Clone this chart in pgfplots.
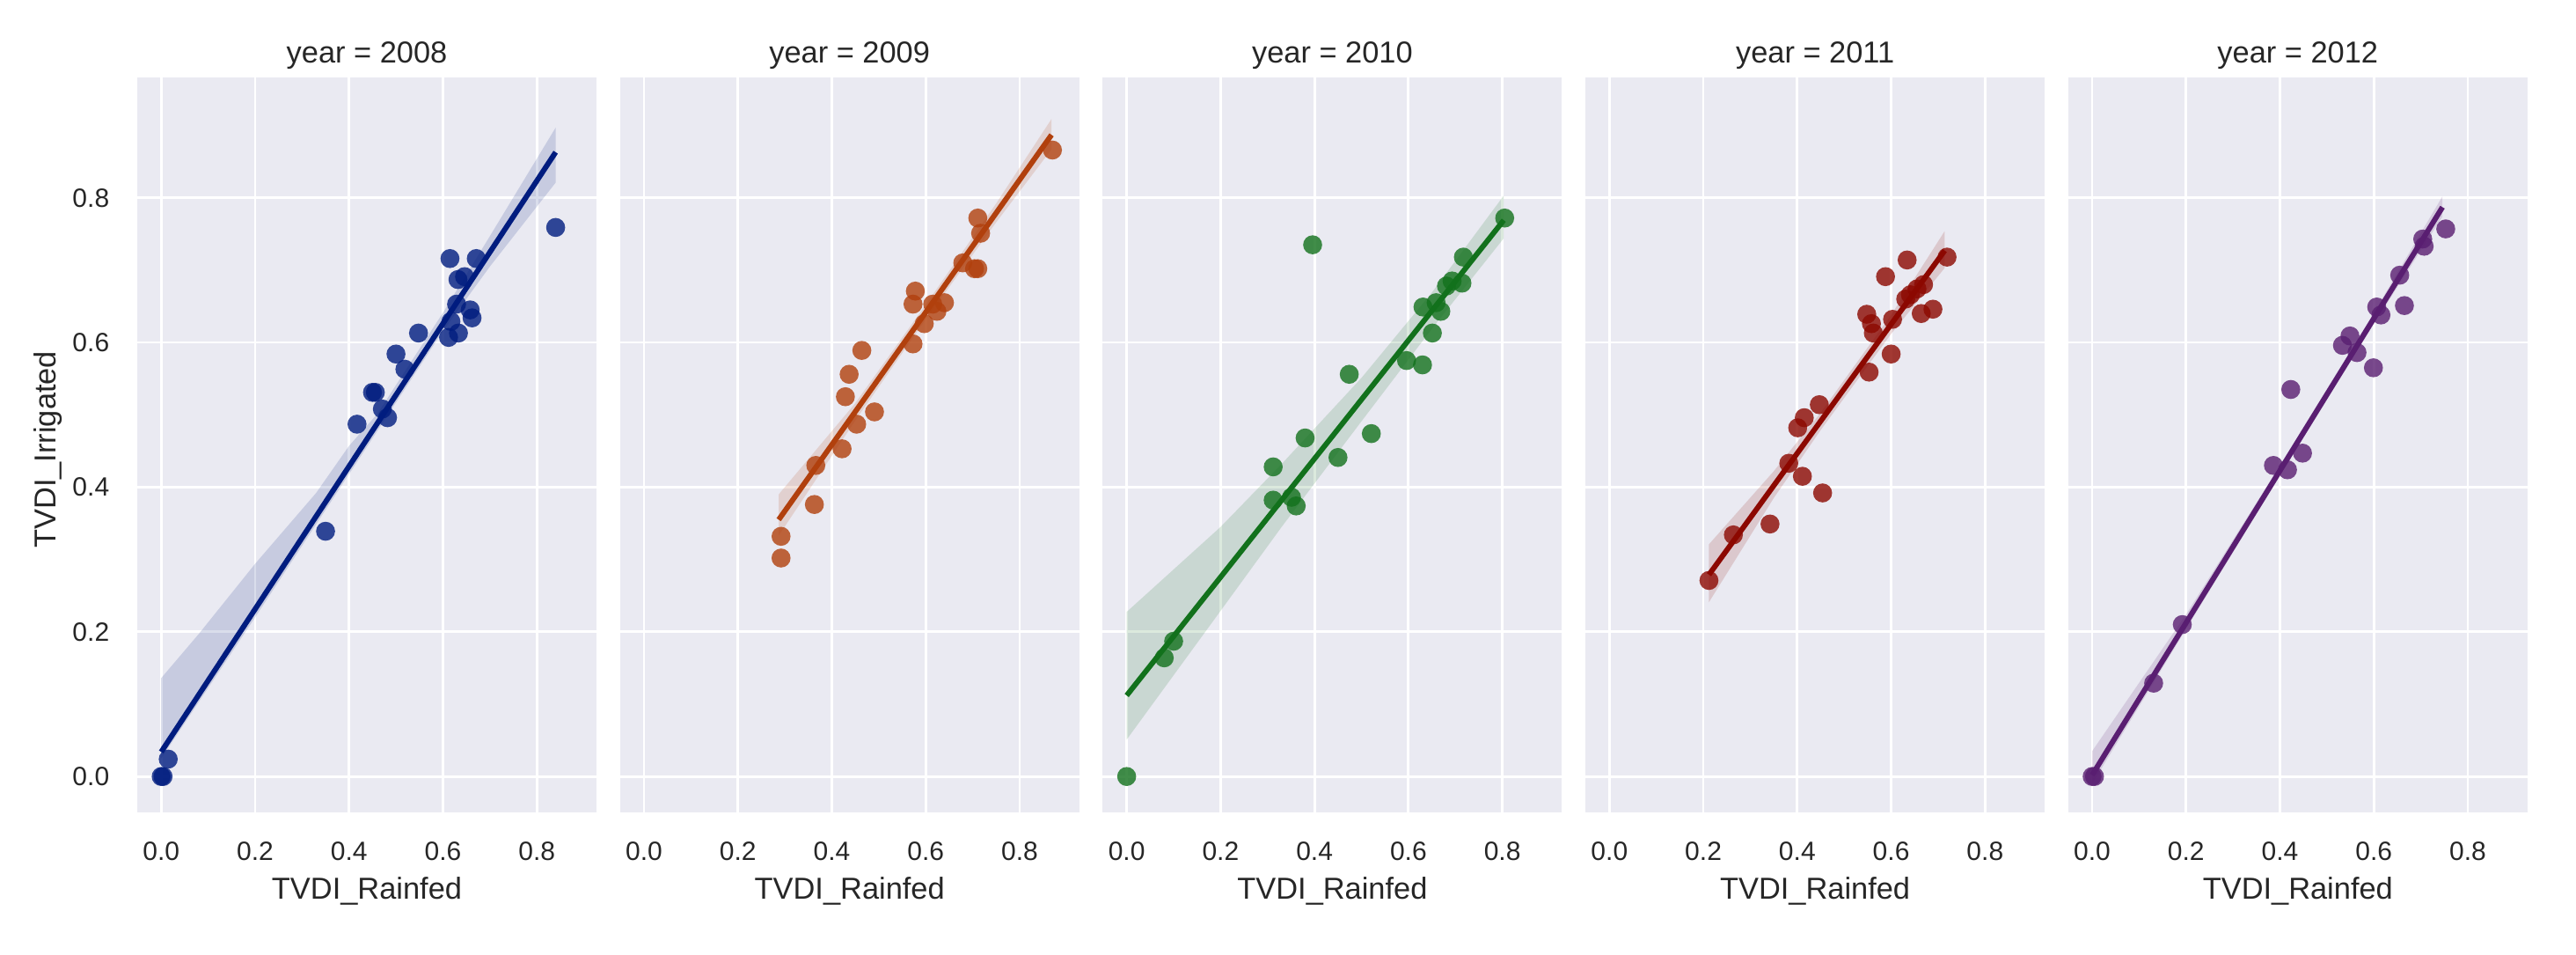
\documentclass[border=0pt]{standalone}
\usepackage{fontspec}
\setmainfont{Liberation Sans}
\usepackage{pgfplots}
\pgfplotsset{compat=1.18}

\definecolor{sbbg}{HTML}{EAEAF2}
\definecolor{sbtext}{HTML}{262626}
\definecolor{c2008}{HTML}{001C7F}
\definecolor{c2009}{HTML}{B1400D}
\definecolor{c2010}{HTML}{12711C}
\definecolor{c2011}{HTML}{8C0800}
\definecolor{c2012}{HTML}{591E71}

\pgfplotsset{
  every axis title shift=0pt,
  facet/.style={
    scale only axis,
    width=130.5pt, height=208.75pt,
    anchor=south west,
    xmin=-0.051, xmax=0.927,
    ymin=-0.05, ymax=0.966,
    xtick={0,0.2,0.4,0.6,0.8},
    ytick={0,0.2,0.4,0.6,0.8},
    /pgf/number format/.cd, fixed, fixed zerofill, precision=1, assume math mode=true,
    /pgfplots/.cd,
    axis background/.style={fill=sbbg},
    axis line style={draw=none},
    tick style={draw=none},
    grid=major,
    grid style={white, line width=0.7pt},
    xticklabel style={anchor=base, inner sep=0pt, yshift=-13.5pt,
      font=\fontsize{7.5}{9}\selectfont, text=sbtext},
    yticklabel style={anchor=east, inner sep=0pt, xshift=-7.75pt,
      font=\fontsize{7.5}{9}\selectfont, text=sbtext},
    xlabel={TVDI\_Rainfed},
    xlabel style={at={(axis description cs:0.5,-0.1178)}, anchor=base,
      inner sep=0pt, font=\fontsize{8.6}{10}\selectfont, text=sbtext},
    title style={at={(axis description cs:0.5,1.0199)}, anchor=base,
      inner sep=0pt, font=\fontsize{8.6}{10}\selectfont, text=sbtext},
  },
  pts/.style={only marks, mark=*, mark size=2.7pt, color=#1,
    mark options={draw=#1, draw opacity=0, fill=#1, fill opacity=0.8}},
  band/.style={draw=none, fill=#1, fill opacity=0.15, forget plot},
  fit/.style={draw=#1, line width=1.5pt, no marks},
}

\begin{document}
\begin{tikzpicture}
\useasboundingbox (0,0) rectangle (732pt,271pt);

% 2008
\begin{axis}[facet, at={(39pt,40.18pt)}, title={year = 2008},
  ylabel={TVDI\_Irrigated},
  ylabel style={at={(axis description cs:-0.178,0.494)}, anchor=base,
    inner sep=0pt, font=\fontsize{8.6}{10}\selectfont, text=sbtext}]
\addplot[pts=c2008] coordinates {
  (0.000,0.000) (0.004,0.000) (0.015,0.024) (0.350,0.339) (0.417,0.487)
  (0.450,0.531) (0.456,0.531) (0.471,0.508) (0.482,0.496) (0.500,0.584)
  (0.519,0.563) (0.548,0.613) (0.615,0.716) (0.612,0.607) (0.617,0.629)
  (0.633,0.613) (0.629,0.653) (0.632,0.687) (0.646,0.691) (0.658,0.645)
  (0.662,0.634) (0.671,0.716) (0.840,0.759)
};
\addplot[band=c2008] coordinates {
  (0,0.136) (0.08,0.197) (0.2,0.294) (0.33,0.392) (0.4,0.457) (0.46,0.501)
  (0.6,0.641) (0.7,0.747) (0.84,0.897)
  (0.84,0.821) (0.7,0.705) (0.6,0.616) (0.4,0.418) (0.2,0.220) (0,0.025)
};
\addplot[fit=c2008] coordinates {(0,0.034) (0.84,0.863)};
\end{axis}

% 2009
\begin{axis}[facet, at={(176.175pt,40.18pt)}, title={year = 2009}, yticklabels={}]
\addplot[pts=c2009] coordinates {
  (0.292,0.332) (0.292,0.302) (0.363,0.376) (0.366,0.430) (0.422,0.453)
  (0.429,0.525) (0.437,0.556) (0.453,0.487) (0.464,0.589) (0.491,0.504)
  (0.573,0.598) (0.578,0.671) (0.573,0.653) (0.597,0.626) (0.615,0.653)
  (0.624,0.643) (0.640,0.655) (0.679,0.710) (0.704,0.702) (0.711,0.702)
  (0.711,0.772) (0.717,0.751) (0.870,0.866)
};
\addplot[band=c2009] coordinates {
  (0.287,0.390) (0.45,0.516) (0.6,0.652) (0.75,0.792) (0.868,0.909)
  (0.868,0.867) (0.75,0.766) (0.6,0.632) (0.45,0.492) (0.287,0.333)
};
\addplot[fit=c2009] coordinates {(0.287,0.355) (0.868,0.887)};
\end{axis}

% 2010
\begin{axis}[facet, at={(313.35pt,40.18pt)}, title={year = 2010}, yticklabels={}]
\addplot[pts=c2010] coordinates {
  (0.000,0.000) (0.080,0.164) (0.100,0.187) (0.312,0.428) (0.312,0.382)
  (0.351,0.386) (0.361,0.374) (0.380,0.468) (0.396,0.735) (0.450,0.441)
  (0.474,0.556) (0.521,0.474) (0.596,0.575) (0.630,0.569) (0.631,0.649)
  (0.651,0.613) (0.659,0.655) (0.669,0.643) (0.681,0.678) (0.693,0.685)
  (0.714,0.682) (0.717,0.718) (0.805,0.772)
};
\addplot[band=c2010] coordinates {
  (0,0.2275) (0.2,0.345) (0.33,0.432) (0.5,0.551) (0.65,0.669) (0.803,0.803)
  (0.803,0.744) (0.65,0.619) (0.5,0.491) (0.33,0.345) (0.2,0.229) (0,0.051)
};
\addplot[fit=c2010] coordinates {(0,0.112) (0.803,0.769)};
\end{axis}

% 2011
\begin{axis}[facet, at={(450.525pt,40.18pt)}, title={year = 2011}, yticklabels={}]
\addplot[pts=c2011] coordinates {
  (0.212,0.271) (0.264,0.334) (0.342,0.349) (0.382,0.433) (0.401,0.482)
  (0.415,0.496) (0.411,0.415) (0.447,0.514) (0.454,0.392) (0.548,0.639)
  (0.558,0.626) (0.562,0.613) (0.553,0.559) (0.588,0.691) (0.600,0.584)
  (0.603,0.632) (0.634,0.714) (0.631,0.660) (0.641,0.666) (0.655,0.674)
  (0.669,0.680) (0.664,0.640) (0.689,0.646) (0.719,0.718)
};
\addplot[band=c2011] coordinates {
  (0.212,0.321) (0.35,0.422) (0.45,0.503) (0.6,0.638) (0.714,0.754)
  (0.714,0.703) (0.6,0.612) (0.45,0.479) (0.35,0.385) (0.212,0.241)
};
\addplot[fit=c2011] coordinates {(0.212,0.279) (0.714,0.727)};
\end{axis}

% 2012
\begin{axis}[facet, at={(587.7pt,40.18pt)}, title={year = 2012}, yticklabels={}]
\addplot[pts=c2012] coordinates {
  (0.000,0.000) (0.005,0.000) (0.131,0.129) (0.192,0.210) (0.386,0.430)
  (0.416,0.424) (0.423,0.535) (0.448,0.447) (0.533,0.596) (0.549,0.609)
  (0.564,0.586) (0.599,0.565) (0.606,0.649) (0.615,0.638) (0.655,0.693)
  (0.665,0.651) (0.704,0.743) (0.707,0.733) (0.753,0.757)
};
\addplot[band=c2012] coordinates {
  (0,0.035) (0.2,0.224) (0.4,0.430) (0.6,0.641) (0.746,0.802)
  (0.746,0.774) (0.6,0.626) (0.4,0.416) (0.2,0.204) (0,-0.010)
};
\addplot[fit=c2012] coordinates {(0,0.002) (0.746,0.787)};
\end{axis}
\end{tikzpicture}
\end{document}
